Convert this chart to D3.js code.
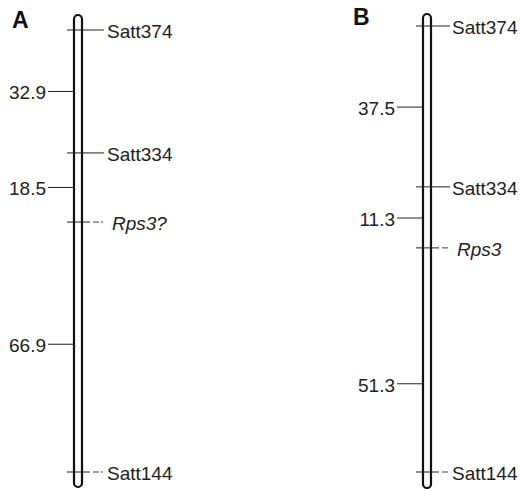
<!DOCTYPE html>
<html>
<head>
<meta charset="utf-8">
<script src="https://cdn.jsdelivr.net/npm/d3@7"></script>
<style>
    body { margin: 0; background: #fff; }
    svg { display: block; font-family: Arial, "Liberation Sans", sans-serif; }
</style>
</head>
<body>
<div id="chart"></div>
<script>
/*global d3*/
(function () {
    "use strict";

    // map A
    var markersA = ["Satt374", "Satt334", "Rps3?", "Satt144"],
        positionsA = [0, 32.9, 51.4, 118.3],
        distancesA = ["32.9", "18.5", "66.9"],
        labelAtA = [16.45, 42.15, 84.1],
    // map B
        markersB = ["Satt374", "Satt334", "Rps3", "Satt144"],
        positionsB = [0, 36.1, 49.8, 100.1],
        distancesB = ["37.5", "11.3", "51.3"],
        labelAtB = [18.2, 43.1, 80.3],
        genes = ["Rps3?", "Rps3"],
        brokenLeader = ["Rps3?", "Satt144", "Rps3"],
        svg, panels;

    svg = d3.select("#chart").append("svg")
        .attr("width", 521)
        .attr("height", 489);

    panels = [
        {title: "A", titleX: 12, titleY: 28, markers: markersA, pos: positionsA,
            dist: distancesA, labelAt: labelAtA, cx: 78, y0: 30, y1: 472,
            padTop: 15, padBottom: 15, textX: 107, geneX: 112, lineEnd: 104, tickLeft: 48},
        {title: "B", titleX: 353, titleY: 25, markers: markersB, pos: positionsB,
            dist: distancesB, labelAt: labelAtB, cx: 427, y0: 26, y1: 472,
            padTop: 12, padBottom: 16, textX: 452, geneX: 457, lineEnd: 450, tickLeft: 397}
    ];

    panels.forEach(function (p) {
        var g = svg.append("g"),
            y = d3.scaleLinear()
                .domain([0, p.pos[p.pos.length - 1]])
                .range([p.y0, p.y1]),
            half = 4,
            rows = p.markers.map(function (m, i) {
                return {name: m, pos: p.pos[i]};
            }),
            ivals = p.dist.map(function (d, i) {
                return {label: d, at: p.labelAt[i]};
            }),
            mk;

        g.append("text")
            .attr("x", p.titleX)
            .attr("y", p.titleY)
            .style("font-size", "23px")
            .style("font-weight", "bold")
            .attr("fill", "#111")
            .text(p.title);

        // chromosome bar
        g.append("rect")
            .attr("x", p.cx - half)
            .attr("y", y(0) - p.padTop)
            .attr("width", half * 2)
            .attr("height", y.range()[1] - y.range()[0] + p.padTop + p.padBottom)
            .attr("rx", half)
            .attr("ry", half)
            .attr("fill", "#fff")
            .attr("stroke", "#111")
            .attr("stroke-width", 2.2);

        // interval distances on the left
        mk = g.selectAll("g.ival").data(ivals).enter().append("g").attr("class", "ival");
        mk.append("line")
            .attr("x1", p.tickLeft)
            .attr("x2", p.cx - half - 1)
            .attr("y1", function (d) { return y(d.at); })
            .attr("y2", function (d) { return y(d.at); })
            .attr("stroke", "#222")
            .attr("stroke-width", 1);
        mk.append("text")
            .attr("x", p.tickLeft - 2)
            .attr("y", function (d) { return y(d.at) + 8; })
            .attr("text-anchor", "end")
            .style("font-size", "19px")
            .attr("fill", "#222")
            .text(function (d) { return d.label; });

        // markers on the right
        mk = g.selectAll("g.marker").data(rows).enter().append("g").attr("class", "marker");
        mk.append("line")
            .attr("x1", p.cx - 11)
            .attr("x2", function (d) {
                return brokenLeader.indexOf(d.name) >= 0 ? p.cx + 12 : p.lineEnd;
            })
            .attr("y1", function (d) { return y(d.pos); })
            .attr("y2", function (d) { return y(d.pos); })
            .attr("stroke", "#222")
            .attr("stroke-width", 1);
        mk.filter(function (d) { return brokenLeader.indexOf(d.name) >= 0; })
            .append("line")
            .attr("x1", p.cx + 15)
            .attr("x2", p.lineEnd - 1)
            .attr("y1", function (d) { return y(d.pos); })
            .attr("y2", function (d) { return y(d.pos); })
            .attr("stroke", "#444")
            .attr("stroke-width", 1)
            .attr("stroke-dasharray", "6,2");
        mk.append("text")
            .attr("x", function (d) {
                return genes.indexOf(d.name) >= 0 ? p.geneX : p.textX;
            })
            .attr("y", function (d) { return y(d.pos) + 8; })
            .style("font-size", "19px")
            .style("font-style", function (d) {
                return genes.indexOf(d.name) >= 0 ? "italic" : "normal";
            })
            .attr("fill", "#222")
            .text(function (d) { return d.name; });
    });
}());
</script>
</body>
</html>
